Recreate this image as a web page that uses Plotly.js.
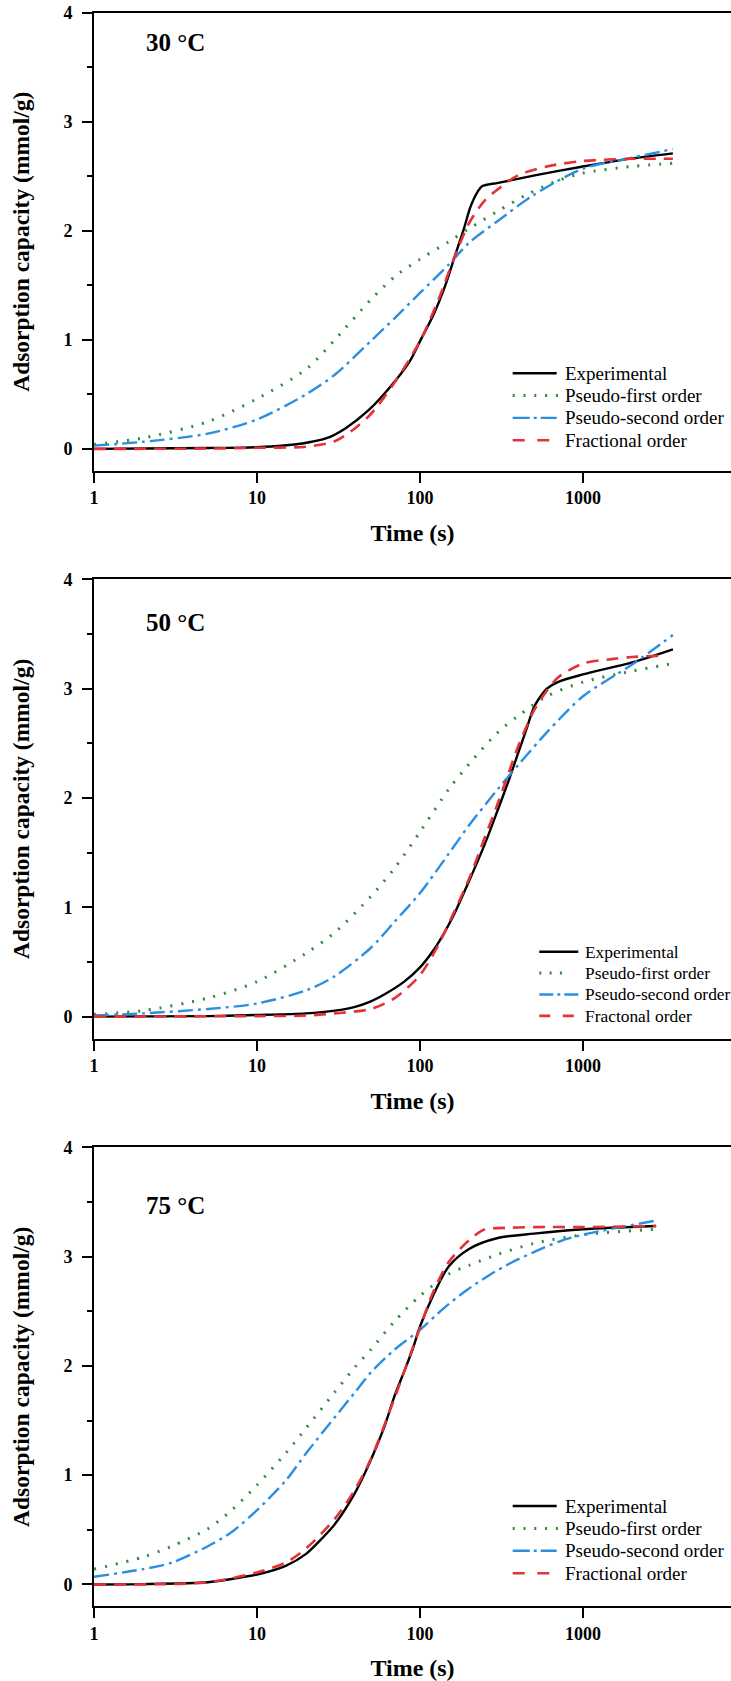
<!DOCTYPE html>
<html>
<head>
<meta charset="utf-8">
<script src="https://cdn.plot.ly/plotly-3.0.1.min.js"></script>
<style>html,body{margin:0;padding:0;background:#fff;}#chart{width:731px;height:1681px;}</style>
</head>
<body>
<div id="chart"></div>
<script>
// ---------- data ----------
const seriesNames = ["Experimental", "Pseudo-first order", "Pseudo-second order", "Fractional order"];
const seriesNames50 = ["Experimental", "Pseudo-first order", "Pseudo-second order", "Fractonal order"];
const panelLabels = ["30 °C", "50 °C", "75 °C"];
const xTickVals = [1, 10, 100, 1000];
const xTickText = ["1", "10", "100", "1000"];
const yTickVals = [0, 1, 2, 3, 4];

// 30 °C
const t30_exp = [1, 2, 5, 10, 19, 27, 35, 48, 71, 87, 101, 121, 143, 163, 186, 204, 226, 241, 302, 515, 1000, 1910, 3560];
const q30_exp = [0, 0.003, 0.008, 0.016, 0.05, 0.10, 0.19, 0.35, 0.63, 0.81, 1.0, 1.23, 1.5, 1.76, 2.02, 2.22, 2.36, 2.41, 2.44, 2.51, 2.59, 2.66, 2.71];
const t30_pfo = [1, 2, 5, 10, 20, 30, 50, 70, 100, 150, 200, 300, 450, 700, 1000, 2000, 3560];
const q30_pfo = [0.04, 0.10, 0.25, 0.46, 0.73, 1.0, 1.37, 1.58, 1.74, 1.90, 2.02, 2.18, 2.33, 2.46, 2.53, 2.59, 2.62];
const t30_pso = [1, 2, 5, 10, 20, 30, 50, 70, 100, 150, 200, 300, 500, 1000, 2000, 3560];
const q30_pso = [0.03, 0.065, 0.14, 0.27, 0.5, 0.68, 0.99, 1.2, 1.43, 1.69, 1.89, 2.09, 2.33, 2.57, 2.67, 2.75];
const t30_frac = [1, 5, 10, 20, 30, 40, 50, 70, 100, 130, 160, 200, 250, 300, 400, 600, 1000, 2000, 3560];
const q30_frac = [0, 0.003, 0.01, 0.02, 0.07, 0.19, 0.32, 0.61, 0.99, 1.37, 1.73, 2.07, 2.28, 2.38, 2.51, 2.59, 2.64, 2.66, 2.66];

// 50 °C
const t50_exp = [1, 5, 10, 20, 30, 40, 50, 60, 80, 100, 120, 140, 160, 200, 250, 300, 350, 400, 450, 500, 550, 600, 700, 1000, 2000, 3560];
const q50_exp = [0, 0.005, 0.015, 0.03, 0.055, 0.09, 0.14, 0.2, 0.32, 0.45, 0.6, 0.76, 0.92, 1.24, 1.58, 1.89, 2.16, 2.41, 2.63, 2.83, 2.93, 3.0, 3.06, 3.13, 3.24, 3.36];
const t50_pfo = [1, 2, 5, 10, 20, 30, 50, 70, 100, 150, 200, 300, 400, 600, 1000, 2000, 3560];
const q50_pfo = [0.02, 0.055, 0.17, 0.32, 0.58, 0.77, 1.1, 1.36, 1.69, 2.08, 2.31, 2.6, 2.75, 2.93, 3.06, 3.16, 3.23];
const t50_pso = [1, 2, 5, 10, 20, 30, 50, 70, 100, 150, 200, 300, 400, 600, 1000, 2000, 3560];
const q50_pso = [0.01, 0.03, 0.07, 0.12, 0.24, 0.37, 0.63, 0.87, 1.13, 1.49, 1.75, 2.08, 2.3, 2.6, 2.93, 3.22, 3.49];
const t50_frac = [1, 10, 20, 30, 50, 70, 100, 130, 160, 200, 250, 300, 350, 400, 500, 600, 700, 1000, 1500, 2000, 3000];
const q50_frac = [0, 0.005, 0.01, 0.03, 0.07, 0.17, 0.38, 0.66, 0.94, 1.26, 1.64, 1.95, 2.23, 2.47, 2.8, 2.98, 3.1, 3.23, 3.27, 3.29, 3.3];

// 75 °C
const t75_exp = [1, 2, 5, 7, 10, 15, 20, 25, 30, 40, 50, 60, 70, 80, 90, 100, 120, 150, 200, 300, 500, 1000, 2810];
const q75_exp = [0, 0.003, 0.02, 0.05, 0.09, 0.17, 0.28, 0.42, 0.55, 0.84, 1.14, 1.43, 1.73, 1.95, 2.15, 2.36, 2.64, 2.91, 3.07, 3.17, 3.21, 3.25, 3.28];
const t75_pfo = [1, 2, 3, 5, 7, 10, 15, 20, 30, 40, 50, 70, 100, 150, 200, 300, 500, 1000, 2810];
const q75_pfo = [0.14, 0.25, 0.35, 0.51, 0.68, 0.91, 1.2, 1.43, 1.76, 1.99, 2.15, 2.41, 2.64, 2.84, 2.92, 3.02, 3.12, 3.2, 3.25];
const t75_pso = [1, 2, 3, 5, 7, 10, 15, 20, 30, 40, 50, 70, 100, 138, 192, 266, 370, 515, 720, 1000, 2810];
const q75_pso = [0.07, 0.14, 0.2, 0.35, 0.48, 0.68, 0.95, 1.2, 1.53, 1.76, 1.94, 2.15, 2.33, 2.52, 2.69, 2.83, 2.95, 3.05, 3.14, 3.2, 3.33];
const t75_frac = [1, 5, 10, 15, 20, 30, 40, 50, 70, 100, 120, 150, 200, 250, 300, 500, 1000, 2810];
const q75_frac = [0, 0.02, 0.11, 0.2, 0.33, 0.6, 0.87, 1.15, 1.71, 2.35, 2.67, 2.95, 3.15, 3.25, 3.26, 3.27, 3.27, 3.28];

// ---------- build ----------
const FONT = "Liberation Serif, Times New Roman, serif";
const W = 731, H = 1681, ML = 94;
const styles = [
  {color: "#000000", width: 2.4, dash: "solid"},
  {color: "#2e8b3a", width: 3, dash: "2px,9px"},
  {color: "#2a8fe0", width: 2.4, dash: "15px,5px,3px,5px"},
  {color: "#e53238", width: 2.6, dash: "12px,8px"}
];
// legend sample geometry (pixels) per panel
const legendGeo = [
  {x0: 512.7, tx: 563.3, rows: [373.3, 395.6, 417.9, 440.2], size: 19,
   ends: [556.7, 558, 556.7, 549.3], dashes: ["solid", "2px,8.8px", "17px,4px,3px,4px", "12px,12.6px"]},
  {x0: 539.3, tx: 583.3, rows: [951.7, 973.1, 994.5, 1015.9], size: 17.4,
   ends: [578.3, 562, 578.3, 575], dashes: ["solid", "2px,8.3px", "14px,4px,3px,4px", "11px,12.5px"]},
  {x0: 512.7, tx: 563.3, rows: [1506, 1528.4, 1550.8, 1573.2], size: 19,
   ends: [556.7, 558, 556.7, 549.3], dashes: ["solid", "2px,8.8px", "17px,4px,3px,4px", "12px,12.6px"]}
];
const panels = [
  {data: [[t30_exp, q30_exp], [t30_pfo, q30_pfo], [t30_pso, q30_pso], [t30_frac, q30_frac]], names: seriesNames, top: 12.7, bottom: 470.7, labY: 42.7},
  {data: [[t50_exp, q50_exp], [t50_pfo, q50_pfo], [t50_pso, q50_pso], [t50_frac, q50_frac]], names: seriesNames50, top: 579.3, bottom: 1038.5, labY: 622.7},
  {data: [[t75_exp, q75_exp], [t75_pfo, q75_pfo], [t75_pso, q75_pso], [t75_frac, q75_frac]], names: seriesNames, top: 1147.3, bottom: 1606.3, labY: 1205}
];

const traces = [];
const layout = {
  width: W, height: H,
  margin: {l: ML, r: 0, t: 0, b: 0, pad: 0},
  paper_bgcolor: "#fff", plot_bgcolor: "#fff",
  font: {family: FONT, color: "#000"},
  showlegend: false,
  annotations: [],
  shapes: []
};
const px2fx = p => (p - ML) / (W - ML);
const py2fy = p => 1 - p / H;

panels.forEach((p, i) => {
  const n = i === 0 ? "" : String(i + 1);
  const xa = "x" + n, ya = "y" + n;
  p.data.forEach((d, k) => {
    traces.push({
      x: d[0], y: d[1], type: "scatter", mode: "lines",
      name: p.names[k], xaxis: xa, yaxis: ya, showlegend: false,
      line: {color: styles[k].color, width: styles[k].width, dash: styles[k].dash, shape: "spline", smoothing: 0.8}
    });
  });
  const h = p.bottom - p.top;
  layout["xaxis" + n] = {
    type: "log", range: [0, (W - ML) / 163], domain: [0, 1], anchor: ya,
    showgrid: false, zeroline: false, showline: true, linecolor: "#000", linewidth: 2, mirror: true,
    ticks: "outside", ticklen: 10, tickwidth: 2, tickcolor: "#000",
    tickvals: xTickVals, ticktext: xTickText,
    tickfont: {family: FONT, size: 18, weight: "bold"},
    title: {text: "Time (s)", font: {family: FONT, size: 24, weight: "bold"}, standoff: 17},
    automargin: false
  };
  layout["yaxis" + n] = {
    range: [-0.2, 4], domain: [py2fy(p.bottom), py2fy(p.top)], anchor: xa,
    showgrid: false, zeroline: false, showline: true, linecolor: "#000", linewidth: 2, mirror: false,
    ticks: "outside", ticklen: 10, tickwidth: 2, tickcolor: "#000",
    tickvals: yTickVals, ticklabelstandoff: 6,
    minor: {dtick: 0.5, tick0: 0, ticks: "outside", ticklen: 5, tickwidth: 2, tickcolor: "#000"},
    tickfont: {family: FONT, size: 18, weight: "bold"},
    title: {text: "Adsorption capacity (mmol/g)", font: {family: FONT, size: 23.5, weight: "bold"}, standoff: 27},
    automargin: false
  };
  // legend drawn as styled samples + text
  const g = legendGeo[i];
  p.names.forEach((nm, k) => {
    const yy = py2fy(g.rows[k]);
    layout.shapes.push({
      type: "line", xref: "paper", yref: "paper",
      x0: px2fx(g.x0), x1: px2fx(g.ends[k]), y0: yy, y1: yy,
      line: {color: styles[k].color, width: styles[k].width, dash: g.dashes[k]}
    });
    layout.annotations.push({
      text: nm, xref: "paper", yref: "paper", x: px2fx(g.tx), y: yy,
      xanchor: "left", yanchor: "middle", showarrow: false,
      font: {family: FONT, size: g.size, color: "#000"}
    });
  });
  layout.annotations.push({
    text: panelLabels[i], xref: xa + " domain", yref: ya + " domain",
    x: (144 - ML) / (W - ML), y: (p.bottom - p.labY) / h, xanchor: "left", yanchor: "middle",
    showarrow: false, font: {family: FONT, size: 25, weight: "bold", color: "#000"}
  });
});

Plotly.newPlot("chart", traces, layout, {staticPlot: true, displayModeBar: false});
</script>
</body>
</html>
